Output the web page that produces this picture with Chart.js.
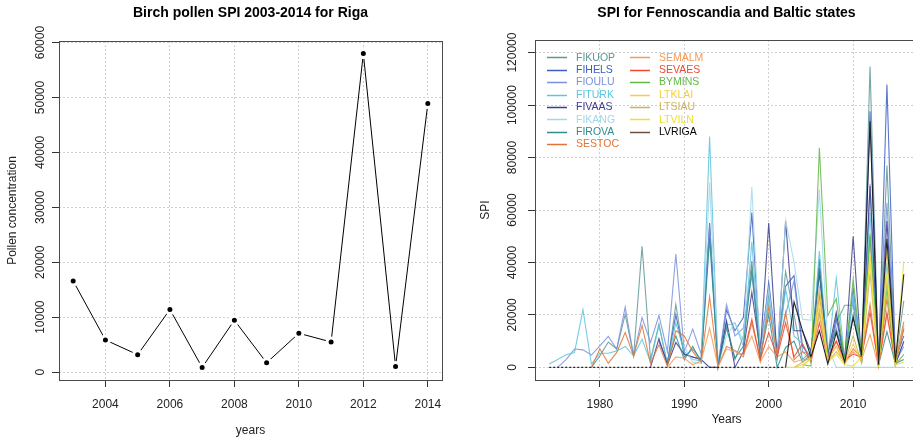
<!DOCTYPE html>
<html><head><meta charset="utf-8">
<script src="https://cdn.jsdelivr.net/npm/chart.js@4.4.1/dist/chart.umd.min.js"></script>
<style>
html,body{margin:0;padding:0;background:#fff;overflow:hidden;width:913px;height:438px}
#wrap{position:relative;width:913px;height:438px;overflow:hidden;background:#fff}
canvas{position:absolute;top:0}
#c1{left:0}
#c2{left:460px}
</style></head><body>
<div id="wrap"><canvas id="c1" width="460" height="438"></canvas><canvas id="c2" width="460" height="438"></canvas></div>
<script>
const N = null;

// ---------- Left panel: Riga ----------
const rigaYears  = [2003, 2004, 2005, 2006, 2007, 2008, 2009, 2010, 2011, 2012, 2013, 2014];
const rigaPollen = [16600, 5850, 3170, 11400, 850, 9450, 1700, 7070, 5490, 58000, 1040, 48900];
const rigaXTicks = [2004, 2006, 2008, 2010, 2012, 2014];
const rigaYTicks = [0, 10000, 20000, 30000, 40000, 50000, 60000];

// ---------- Right panel: SPI per station ----------
const years = [1974,1975,1976,1977,1978,1979,1980,1981,1982,1983,1984,1985,1986,1987,1988,1989,
               1990,1991,1992,1993,1994,1995,1996,1997,1998,1999,2000,2001,2002,2003,2004,2005,
               2006,2007,2008,2009,2010,2011,2012,2013,2014,2015,2016];
const FIKUOP = [N,N,N,N,N, 0, 4400,9700,7000,20200,4400, 46200,3000,16500,1000,24000, 4000,7000,3000,52000,500,
                17000,3000,12000,40600,3000, 28000,4000,36500,20000,3000, 6000,36000,3000,17000,23700,
                23700,3000,114700,1000,77000, 2000,25400];
const FIHELS = [N,N,N,N,N,N,N,N,N,N,N,N,N, 10000,2000,20000, 5000,4000,3000,55000,300,
                22000,14000,19000,59000,5000, 32400,5000,31000,35000,8000, 4000,41200,3000,19000,2000,
                30000,2500,97600,700,107800, 3000,12000];
const FIOULU = [N, 0,3000,7000,6700,4700, 8200,11800,7000,23000,4400, 19000,9500,19800,6000,43200,
                6000,14600,5000,54000,1000, 24000,12000,15000,35000,8000, 30000,6000,20000,33000,6000,
                5000,30000,4000,15000,3000, 26000,3000,70000,1500,62800, 2000,8000];
const FITURK = [1300,3000,4800,5700,22000,1300, 5400,5400,6300,8000,4400, 10700,2000,16000,1500,17000,
                6000,3000,2500,88000,500, 16000,17000,8000,48000,4000, 25000,3000,30000,12000,9000,
                3000,44400,4000,34000,3000, 28000,2000,59000,800,40000, 2000,9500];
const FIVAAS = [N,N,N,N,N,N,N,N,N,N,N,N, 0,11000,1000,9500, 5000,4000,3000,0,0,
                17800,0,6000,28600,6000, 55000,3000,55800,14000,14000, 6000,36100,5000,21000,3000,
                50000,2000,69100,500,55800, 1000,10000];
const FIKANG = [N,N,N,N,N,N,N,N,N,N,N,N,N,N,N,N, 8000,2000,1500,70500,500,
                12000,17000,10000,68800,4000, 30000,3000,56000,40000,18400, 18000,67800,8000,0,0,
                0,0,0,0,0, 0,0];
const FIROVA = [N,N,N,N,N,N,N,N,N,N,N,N,N,N, 2000,12000, 3000,8000,2000,49000,500,
                15000,3500,8000,37500,4000, 20000,0,7600,10000,2000, 5000,38000,6000,14000,4000,
                20000,3000,50000,800,13600, 1500,3000];
const SESTOC = [N,N,N,N,N, 0, 7000,1600,5700,13300,4400, 16000,1500,8600,600,14000, 12000,6000,2000,27000,300,
                8000,6500,4000,17000,3000, 22900,5000,21000,3000,6000, 3000,27300,4000,10000,2000,
                7000,4000,24000,500,26200, 2000,17400];
const SEMALM = [N,N,N,N,N,N,N,N,N,N,N,N,N,N, 0,4000, 3500,1000,2500,15000,200,
                7000,6000,5000,12000,2000, 8000,4000,6000,2000,3000, 3000,20000,3000,8000,1500,
                6000,3000,12500,500,20000, 2000,15000];
const SEVAES = [N,N,N,N,N,N,N,N,N,N,N,N,N,N,N,N,N,N,N,N,N,N,N, 5000,18400,3000,
                13300,4000,17000,4000,9000, 2000,17000,3000,10000,3000, 5000,4000,21000,800,21000, 1500,14600];
const BYMINS = [N,N,N,N,N,N,N,N,N,N,N,N,N,N,N,N,N,N,N,N,N,N,N,N,N,N,N,N,N,N, 1000,
                500,83700,19700,26200,2000, 33600,4000,51000,1000,30000, 1000,5000];
const LTKLAI = [N,N,N,N,N,N,N,N,N,N,N,N,N,N,N,N,N,N,N,N,N,N,N,N,N,N,N,N,N, 0,1000,
                3000,29800,3000,8000,1500, 9000,2000,43700,500,44400, 1000,2000];
const LTSIAU = [N,N,N,N,N,N,N,N,N,N,N,N,N,N,N,N,N,N,N,N,N,N,N,N,N,N,N,N,N, 0,2000,
                4000,22000,2000,6000,2000, 12000,1500,36000,300,33000, 1000,16000];
const LTVILN = [N,N,N,N,N,N,N,N,N,N,N,N,N,N,N,N,N,N,N,N,N,N,N,N,N,N,N,N, 0,0,0,
                4000,25000,2000,5000,1000, 500,4000,40000,200,36000, 500,40600];
const LVRIGA = [0,0,0,0,0,0,0,0,0,0,0,0,0,0,0,0,0,0,0,0,0,0,0,0,0,0,0,0,0, 25000,14000,
                4000,14000,1300,13300,2000, 19000,5000,93800,1000,49000, 2000,35500];
const stationNames = ['FIKUOP','FIHELS','FIOULU','FITURK','FIVAAS','FIKANG','FIROVA','SESTOC',
                      'SEMALM','SEVAES','BYMINS','LTKLAI','LTSIAU','LTVILN','LVRIGA'];
const spiXTicks = [1980, 1990, 2000, 2010];
const spiYTicks = [0, 20000, 40000, 60000, 80000, 100000, 120000];
const spiYLimits = [0, 120000];

// ---------- styles ----------
const seriesColors = ['#5f9697','#3b5fc4','#7892dc','#5cc6dc','#3c3c8e','#a2d8ea','#2f8c8c','#e07535',
                      '#f59a55','#f0472f','#62b845','#f6cf42','#cdb258','#ece22c','#1a1a1a'];
const legendLineColors = seriesColors.slice(0, 14).concat(['#6e5040']);
const FONT = '"Liberation Sans", Arial, Helvetica, sans-serif';
Chart.defaults.font.family = FONT;
Chart.defaults.color = '#222';

function rRange(lo, hi) { const d = hi - lo; return [lo - 0.04 * d, hi + 0.04 * d]; }
function withAlpha(hex, a) {
  const n = parseInt(hex.slice(1), 16);
  return `rgba(${(n >> 16) & 255},${(n >> 8) & 255},${n & 255},${a})`;
}

const titlePlugin = {
  id: 'rtitle',
  afterDraw(chart, args, opts) {
    const {ctx, chartArea: a} = chart;
    ctx.save();
    ctx.font = 'bold 14px ' + FONT;
    ctx.fillStyle = '#000';
    ctx.textAlign = 'center';
    ctx.textBaseline = 'middle';
    ctx.fillText(opts.text, (a.left + a.right) / 2, opts.y);
    ctx.restore();
  }
};
const boxPlugin = {
  id: 'rbox',
  afterDatasetsDraw(chart) {
    const {ctx, chartArea: a} = chart;
    ctx.save();
    ctx.strokeStyle = '#4a4a4a';
    ctx.lineWidth = 1;
    ctx.strokeRect(Math.round(a.left) + 0.5, Math.round(a.top) + 0.5,
                   Math.round(a.right - a.left), Math.round(a.bottom - a.top));
    ctx.restore();
  }
};
const legendPlugin = {
  id: 'rlegend',
  afterDatasetsDraw(chart) {
    const {ctx, chartArea: a} = chart;
    ctx.save();
    ctx.font = '10.5px ' + FONT;
    ctx.textBaseline = 'middle';
    ctx.textAlign = 'left';
    chart.data.datasets.forEach((ds, i) => {
      const col = i < 8 ? 0 : 1;
      const row = i < 8 ? i : i - 8;
      const x0 = a.left + 12 + col * 83;
      const y = a.top + 17.3 + row * 12.4;
      ctx.strokeStyle = legendLineColors[i];
      ctx.lineWidth = 1.5;
      ctx.beginPath(); ctx.moveTo(x0, Math.round(y) + 0.5); ctx.lineTo(x0 + 20, Math.round(y) + 0.5); ctx.stroke();
      ctx.fillStyle = seriesColors[i] === '#1a1a1a' ? '#000' : seriesColors[i];
      ctx.fillText(ds.label, x0 + 29, y + 0.5);
    });
    ctx.restore();
  }
};

function axisCommon(tickVals, isY, tickLen) {
  return {
    type: 'linear',
    afterBuildTicks: s => { s.ticks = tickVals.map(v => ({value: v})); },
    grid: {
      color: '#d0d0d0', lineWidth: 1, drawTicks: true, tickLength: tickLen,
      tickColor: '#333', tickWidth: 1, tickBorderDash: []
    },
    border: {display: false, dash: [2, 2]},
    ticks: {
      callback: v => String(v),
      font: {size: 12}, color: '#222',
      autoSkip: false,
      ...(isY ? {minRotation: 90, maxRotation: 90, crossAlign: 'center', padding: -5}
              : {maxRotation: 0, padding: 10})
    }
  };
}

// ---------- Left chart ----------
(function () {
  const [xMin, xMax] = rRange(Math.min(...rigaYears), Math.max(...rigaYears));
  const [yMin, yMax] = rRange(Math.min(...rigaPollen), Math.max(...rigaPollen));
  const xs = axisCommon(rigaXTicks, false, 7);
  const ys = axisCommon(rigaYTicks, true, 7);
  new Chart(document.getElementById('c1'), {
    type: 'line',
    data: {
      datasets: [{
        label: 'Riga',
        data: rigaYears.map((y, i) => ({x: y, y: rigaPollen[i]})),
        borderColor: '#000', borderWidth: 1, tension: 0,
        pointRadius: 4, pointBackgroundColor: '#000',
        pointBorderColor: '#fff', pointBorderWidth: 3, pointHoverRadius: 4
      }]
    },
    options: {
      responsive: false, animation: false, devicePixelRatio: 1,
      layout: {padding: {top: 41, left: 0, right: 18, bottom: 0}},
      plugins: {legend: {display: false}, tooltip: {enabled: false}, rtitle: {text: 'Birch pollen SPI 2003-2014 for Riga', y: 13}},
      scales: {
        x: {...xs, min: xMin, max: xMax, afterFit: s => { s.height = 58; },
            title: {display: true, text: 'years', font: {size: 12}, color: '#222', padding: {top: 0, bottom: 0}}},
        y: {...ys, min: yMin, max: yMax, afterFit: s => { s.width = 59; },
            title: {display: true, text: 'Pollen concentration', font: {size: 12}, color: '#222', padding: {top: 5, bottom: 0}}}
      }
    },
    plugins: [titlePlugin, boxPlugin]
  });
})();

// ---------- Right chart ----------
(function () {
  const [xMin, xMax] = rRange(Math.min(...years), Math.max(...years));
  const [yMin, yMax] = rRange(spiYLimits[0], spiYLimits[1]);
  const series = [FIKUOP, FIHELS, FIOULU, FITURK, FIVAAS, FIKANG, FIROVA, SESTOC,
                  SEMALM, SEVAES, BYMINS, LTKLAI, LTSIAU, LTVILN, LVRIGA];
  const xs = axisCommon(spiXTicks, false, 7);
  const ys = axisCommon(spiYTicks, true, 7);
  new Chart(document.getElementById('c2'), {
    type: 'line',
    data: {
      datasets: series.map((vals, i) => {
        const ds = {
          label: stationNames[i],
          data: years.map((y, k) => ({x: y, y: vals[k]})),
          borderColor: withAlpha(seriesColors[i], i === 14 ? 0.95 : 0.85),
          borderWidth: 1.1, tension: 0, pointRadius: 0, pointHoverRadius: 0,
          spanGaps: false, fill: false, order: series.length - i
        };
        if (stationNames[i] === 'LVRIGA') {
          ds.segment = {borderDash: c => (c.p1.parsed.x <= 2002 ? [2, 2] : undefined)};
        }
        return ds;
      })
    },
    options: {
      responsive: false, animation: false, devicePixelRatio: 1,
      layout: {padding: {top: 40, left: 0, right: 2, bottom: 0}},
      plugins: {legend: {display: false}, tooltip: {enabled: false}, rtitle: {text: 'SPI for Fennoscandia and Baltic states', y: 13}},
      scales: {
        x: {...xs, min: xMin, max: xMax, afterFit: s => { s.height = 58; },
            title: {display: true, text: 'Years', font: {size: 12}, color: '#222', padding: {top: 0, bottom: 11}}},
        y: {...ys, min: yMin, max: yMax, afterFit: s => { s.width = 75; },
            title: {display: true, text: 'SPI', font: {size: 12}, color: '#222', padding: {top: 18, bottom: 0}}}
      }
    },
    plugins: [titlePlugin, boxPlugin, legendPlugin]
  });
})();
</script>
</body></html>
